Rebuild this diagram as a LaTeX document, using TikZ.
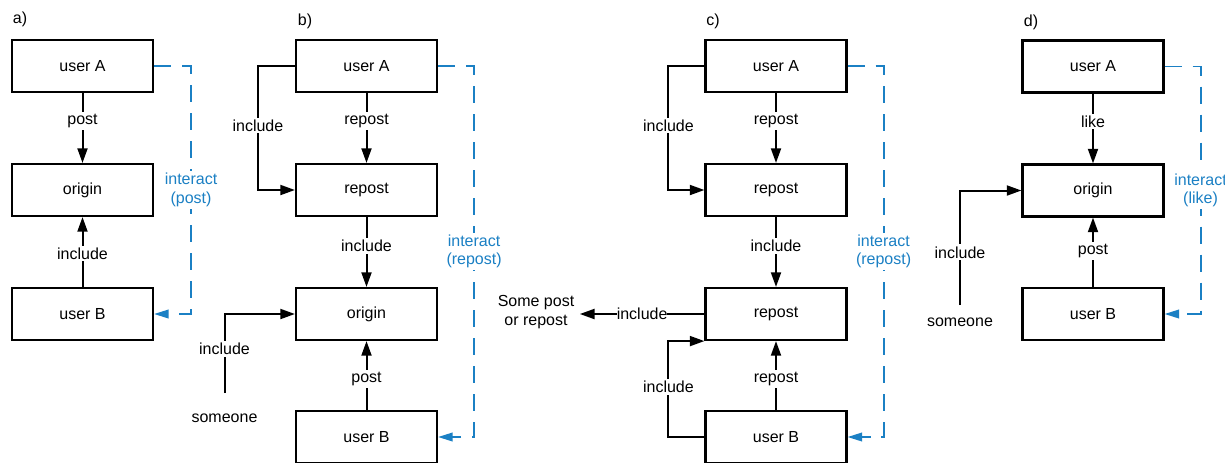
\documentclass[tikz,border=0pt]{standalone}
\usepackage{fontspec}
\setmainfont{Liberation Sans}
\usetikzlibrary{arrows.meta}
\definecolor{ilblue}{RGB}{27,128,196}
\begin{document}
\begin{tikzpicture}[x=0.75pt,y=-0.75pt,
  font=\fontsize{12pt}{14pt}\selectfont,
  box/.style={draw,line width=1.6pt,minimum width=105.75pt,minimum height=39pt,inner sep=0pt},
  arr/.style={line width=1.5pt,-{Triangle[length=11pt,width=7.5pt]}},
  lbl/.style={fill=white,inner sep=1.5pt},
  ilink/.style={ilblue,line width=1.4pt,dash pattern=on 13pt off 8pt,-{Triangle[length=11pt,width=6.5pt]}},
  ilbl/.style={fill=white,text=ilblue,align=center,inner sep=1.5pt},
  plain/.style={inner sep=2pt},
  tag/.style={inner sep=0pt}]
\fill[white] (0,0) rectangle (1225,462);
\useasboundingbox (0,0) rectangle (1225,462);

% ---- a)
\node[tag] (ta) at (20,19) {a)};
\node[box] (aA) at (82.5,66) {user A};
\node[box] (aO) at (82.5,190) {origin};
\node[box] (aB) at (82.5,314) {user B};
\draw[arr] (aA) -- node[lbl,pos=0.4]{post} (aO);
\draw[arr] (aB) -- node[lbl,pos=0.48]{include} (aO);
\draw[ilink] (aA.east) -- ++(37,0) |- node[ilbl,pos=0.25]{interact\\(post)} (aB.east);

% ---- b)
\node[tag] (tb) at (305,21) {b)};
\node[box] (bA) at (366.5,66) {user A};
\node[box] (bR) at (366.5,190) {repost};
\node[box] (bO) at (366.5,314) {origin};
\node[box] (bB) at (366.5,437) {user B};
\node[plain] (bS) at (224.5,418) {someone};
\coordinate (bSt) at (224.5,393);
\draw[arr] (bA) -- node[lbl,pos=0.4]{repost} (bR);
\draw[arr] (bR) -- node[lbl,pos=0.41]{include} (bO);
\draw[arr] (bB) -- node[lbl,pos=0.45]{post} (bO);
\draw[arr] (bA.west) -- ++(-37,0) |- node[lbl,pos=0.24]{include} (bR.west);
\draw[arr] (bSt) |- node[lbl,pos=0.28]{include} (bO.west);
\draw[ilink] (bA.east) -- ++(36,0) |- node[ilbl,pos=0.25]{interact\\(repost)} (bB.east);

% ---- c)
\node[tag] (tc) at (713,21) {c)};
\node[box] (cA) at (776,66) {user A};
\node[box] (cR1) at (776,190) {repost};
\node[box] (cR2) at (776,314) {repost};
\node[box] (cB) at (776,437) {user B};
\node[inner sep=4pt,align=center] (cS) at (536,312) {Some post\\or repost};
\draw[arr] (cA) -- node[lbl,pos=0.4]{repost} (cR1);
\draw[arr] (cR1) -- node[lbl,pos=0.41]{include} (cR2);
\draw[arr] (cB) -- node[lbl,pos=0.45]{repost} (cR2);
\draw[arr] (cA.west) -- ++(-36,0) |- node[lbl,pos=0.24]{include} (cR1.west);
\draw[arr] (cB.west) -- ++(-36,0) |- node[lbl,pos=0.26]{include} (cR2.south west);
\draw[arr] (cR2.west) -- node[lbl,inner sep=0pt]{include} (cS.east |- cR2.west);
\draw[ilink] (cA.east) -- ++(36,0) |- node[ilbl,pos=0.25]{interact\\(repost)} (cB.east);

% ---- d)
\node[tag] (td) at (1031,22) {d)};
\node[box] (dA) at (1093,66.5) {user A};
\node[box] (dO) at (1093,190.5) {origin};
\node[box] (dB) at (1093,314) {user B};
\node[plain] (dS) at (960,322) {someone};
\coordinate (dSt) at (960,305);
\draw[arr] (dA) -- node[lbl,pos=0.4]{like} (dO);
\draw[arr] (dB) -- node[lbl,pos=0.52]{post} (dO);
\draw[arr] (dSt) |- node[lbl,pos=0.23]{include} (dO.west);
\draw[ilink] (dA.east) -- ++(36,0) |- node[ilbl,pos=0.25]{interact\\(like)} (dB.east);
\end{tikzpicture}
\end{document}
